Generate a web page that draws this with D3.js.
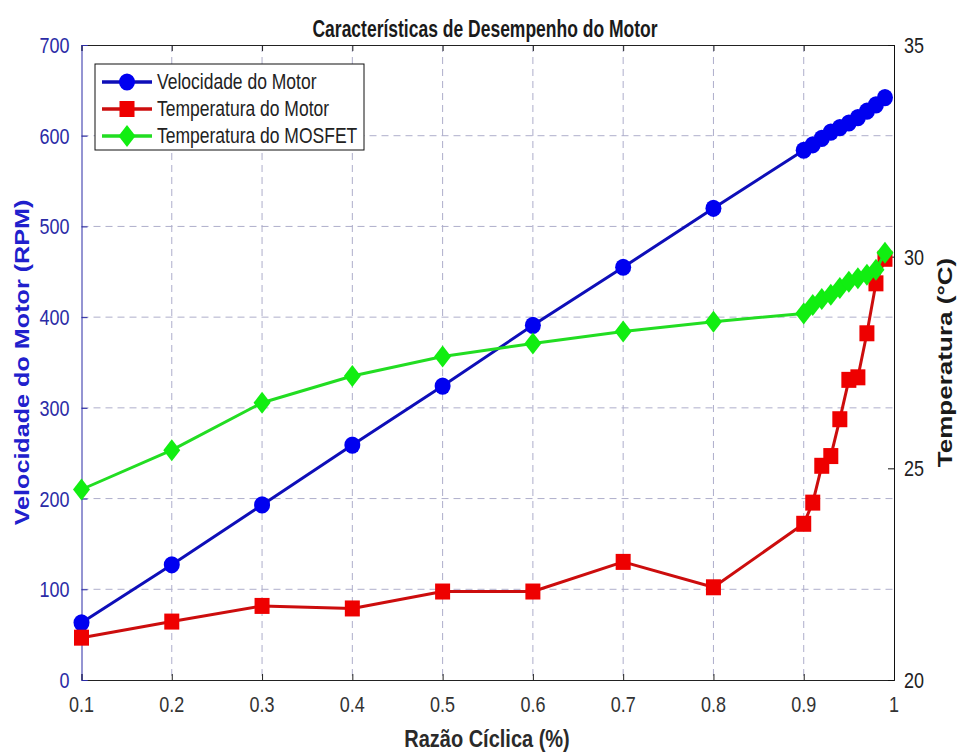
<!DOCTYPE html>
<html>
<head>
<meta charset="utf-8">
<script src="https://cdn.jsdelivr.net/npm/d3@7"></script>
<style>
  html, body { margin: 0; padding: 0; background: #fff; }
  svg { display: block; font-family: "Liberation Sans", Arial, Helvetica, sans-serif; }
</style>
</head>
<body>
<svg id="chart" width="960" height="754"></svg>
<script>
// Duty cycle sweep (fine steps near full duty)
const duty = [0.1, 0.2, 0.3, 0.4, 0.5, 0.6, 0.7, 0.8, 0.9,
              0.91, 0.92, 0.93, 0.94, 0.95, 0.96, 0.97, 0.98, 0.99];
// Motor speed (RPM)
const motorSpeed = [63, 127, 193, 259, 324, 391, 455, 520, 584,
                    590, 597, 604, 609, 614, 620, 627, 634, 642];
// Motor temperature (°C)
const motorTemp = [21.0, 21.38, 21.75, 21.69, 22.09, 22.09, 22.79, 22.19, 23.69,
                   24.19, 25.06, 25.29, 26.16, 27.09, 27.15, 28.19, 29.37, 29.95];
// MOSFET temperature (°C)
const mosfetTemp = [24.5, 25.43, 26.55, 27.18, 27.64, 27.95, 28.23, 28.46, 28.66,
                    28.86, 29.0, 29.1, 29.26, 29.41, 29.49, 29.57, 29.69, 30.09];

const xTicks = [0.1, 0.2, 0.3, 0.4, 0.5, 0.6, 0.7, 0.8, 0.9, 1];
const rpmTicks = [0, 100, 200, 300, 400, 500, 600, 700];
const tempTicks = [20, 25, 30, 35];

const titleText = "Características de Desempenho do Motor";
const xLabel = "Razão Cíclica (%)";
const yLeftLabel = "Velocidade do Motor (RPM)";
const yRightLabel = "Temperatura (°C)";
const seriesNames = ["Velocidade do Motor", "Temperatura do Motor", "Temperatura do MOSFET"];

const svg = d3.select("#chart");
const plotL = 81.5, plotR = 894, plotT = 45, plotB = 680;
const stretch = 1.24; // figure is taller than its fonts: glyphs are drawn elongated vertically

const x = d3.scaleLinear().domain([0.1, 1]).range([plotL, plotR]);
const yL = d3.scaleLinear().domain([0, 700]).range([plotB, plotT]);
const yR = d3.scaleLinear().domain([20, 35]).range([plotB, plotT]);

const leftColor = "#2b2ba6";
const gridColor = "#aeaecb";

// text helper: horizontal text stretched vertically, or rotated text stretched along its length
function label(parent, px, py, str, o) {
  const rot = o.rotate || 0;
  const k = o.stretch || stretch;
  const tf = rot ? `translate(${px},${py}) rotate(${rot}) scale(${k},1)`
                 : `translate(${px},${py}) scale(1,${k})`;
  return parent.append("text").attr("transform", tf)
    .attr("text-anchor", o.anchor || "middle")
    .attr("font-size", o.size).attr("font-weight", o.weight || "normal")
    .attr("fill", o.fill || "#222").text(str);
}

// grid
const grid = svg.append("g");
grid.selectAll("line.gx").data(xTicks.slice(1, -1)).join("line")
  .attr("x1", d => x(d)).attr("x2", d => x(d))
  .attr("y1", plotT).attr("y2", plotB)
  .attr("stroke", gridColor).attr("stroke-width", 1).attr("stroke-dasharray", "7,5");
grid.selectAll("line.gy").data(rpmTicks.slice(1, -1)).join("line")
  .attr("y1", d => yL(d)).attr("y2", d => yL(d))
  .attr("x1", plotL).attr("x2", plotR)
  .attr("stroke", gridColor).attr("stroke-width", 1).attr("stroke-dasharray", "7,5");

// axes (tick marks point inward); labels are drawn separately
const xAxis = svg.append("g").attr("transform", `translate(0,${plotB})`)
  .call(d3.axisBottom(x).tickValues(xTicks).tickSize(-6).tickFormat(""));
xAxis.select(".domain").attr("stroke", "#222");
xAxis.selectAll(".tick line").attr("stroke", "#222");

const xTop = svg.append("g").attr("transform", `translate(0,${plotT})`)
  .call(d3.axisTop(x).tickValues(xTicks).tickSize(-6).tickFormat(""));
xTop.select(".domain").attr("stroke", "#222");
xTop.selectAll(".tick line").attr("stroke", "#222");

const yLeftAxis = svg.append("g").attr("transform", `translate(${plotL},0)`)
  .call(d3.axisLeft(yL).tickValues(rpmTicks).tickSize(-6).tickFormat(""));
yLeftAxis.select(".domain").attr("stroke", leftColor);
yLeftAxis.selectAll(".tick line").attr("stroke", leftColor);

const yRightAxis = svg.append("g").attr("transform", `translate(${plotR},0)`)
  .call(d3.axisRight(yR).tickValues(tempTicks).tickSize(-6).tickFormat(""));
yRightAxis.select(".domain").attr("stroke", "#111");
yRightAxis.selectAll(".tick line").attr("stroke", "#111");

const tickLabels = svg.append("g");
xTicks.forEach(t => label(tickLabels, x(t), plotB + 32, d3.format("")(t), { size: 18, fill: "#333" }));
rpmTicks.forEach(t => label(tickLabels, plotL - 12, yL(t) + 8, String(t), { size: 18, anchor: "end", fill: leftColor }));
tempTicks.forEach(t => label(tickLabels, plotR + 10, yR(t) + 8, String(t), { size: 18, anchor: "start", fill: "#222" }));

// series
const rows = duty.map((d, i) => ({ d, rpm: motorSpeed[i], tm: motorTemp[i], tf: mosfetTemp[i] }));

const diamond = (cx, cy) => `M${cx},${cy - 11}L${cx + 8.5},${cy}L${cx},${cy + 11}L${cx - 8.5},${cy}Z`;

function marker(g, shape, cx, cy, color) {
  if (shape === "circle") {
    return g.append("ellipse").attr("cx", cx).attr("cy", cy).attr("rx", 8).attr("ry", 8.6).attr("fill", color);
  } else if (shape === "square") {
    return g.append("rect").attr("x", cx - 7.5).attr("y", cy - 8).attr("width", 15).attr("height", 16).attr("fill", color);
  }
  return g.append("path").attr("d", diamond(cx, cy)).attr("fill", color);
}

function drawSeries(key, yScale, lineColor, markColor, shape) {
  const g = svg.append("g");
  g.append("path").datum(rows)
    .attr("fill", "none").attr("stroke", lineColor).attr("stroke-width", 3)
    .attr("stroke-linejoin", "round")
    .attr("d", d3.line().x(r => x(r.d)).y(r => yScale(r[key])));
  rows.forEach(r => marker(g, shape, x(r.d), yScale(r[key]), markColor));
}

drawSeries("rpm", yL, "#0e0eb8", "#0000f0", "circle");
drawSeries("tm", yR, "#cc0d0d", "#ee0000", "square");
drawSeries("tf", yR, "#22dd22", "#11ee11", "diamond");

// title and axis labels
label(svg, 485, 37, titleText, { size: 17.5, weight: "bold", fill: "#1a1a1a", stretch: 1.32 });
label(svg, 487, 747, xLabel, { size: 20, weight: "bold", fill: "#2a2a2a" });
label(svg, 29, (plotT + plotB) / 2, yLeftLabel, { size: 20.3, weight: "bold", fill: "#2020cc", rotate: -90 });
label(svg, 952, (plotT + plotB) / 2, yRightLabel, { size: 21, weight: "bold", fill: "#1a1a1a", rotate: -90 });

// legend
const lg = svg.append("g").attr("transform", "translate(95,64)");
lg.append("rect").attr("width", 269).attr("height", 86)
  .attr("fill", "#fff").attr("stroke", "#111").attr("stroke-width", 1);
const legendItems = [
  { name: seriesNames[0], line: "#0e0eb8", mark: "#0000f0", shape: "circle" },
  { name: seriesNames[1], line: "#cc0d0d", mark: "#ee0000", shape: "square" },
  { name: seriesNames[2], line: "#22dd22", mark: "#11ee11", shape: "diamond" }
];
legendItems.forEach((it, i) => {
  const cy = 18 + i * 27;
  lg.append("line").attr("x1", 7).attr("x2", 57).attr("y1", cy).attr("y2", cy)
    .attr("stroke", it.line).attr("stroke-width", 3.5);
  marker(lg, it.shape, 32, cy, it.mark);
  label(lg, 62, cy + 6.5, it.name, { size: 17.5, anchor: "start", fill: "#222" });
});
</script>
</body>
</html>
